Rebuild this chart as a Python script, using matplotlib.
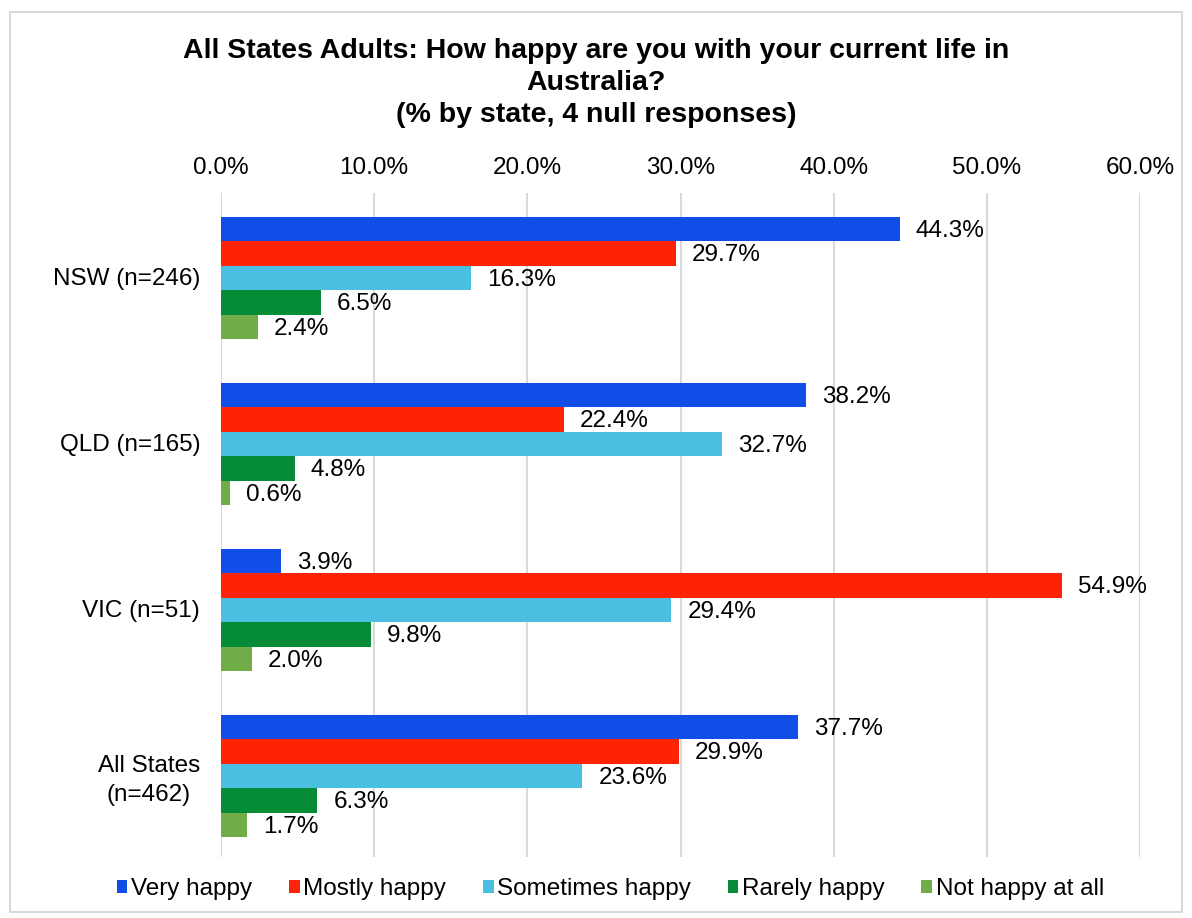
import numpy as np
import matplotlib.pyplot as plt
from matplotlib.patches import Rectangle
from matplotlib.ticker import FuncFormatter

plt.rcParams['font.family'] = ['Liberation Sans', 'DejaVu Sans']

# ── data ─────────────────────────────────────────────────────────────
states = ["NSW (n=246)", "QLD (n=165)", "VIC (n=51)", "All States\n(n=462)"]
series = ["Very happy", "Mostly happy", "Sometimes happy", "Rarely happy", "Not happy at all"]
colors = ["#114ee8", "#ff2305", "#4abfe2", "#068b37", "#70ac48"]

very_happy      = [44.3, 38.2, 3.9, 37.7]
mostly_happy    = [29.7, 22.4, 54.9, 29.9]
sometimes_happy = [16.3, 32.7, 29.4, 23.6]
rarely_happy    = [6.5, 4.8, 9.8, 6.3]
not_happy       = [2.4, 0.6, 2.0, 1.7]
values = [very_happy, mostly_happy, sometimes_happy, rarely_happy, not_happy]

title = ("All States Adults: How happy are you with your current life in\n"
         "Australia?\n(% by state, 4 null responses)")

FS = 17.5

# ── figure ───────────────────────────────────────────────────────────
fig = plt.figure(figsize=(11.92, 9.18), dpi=100)
ax = fig.add_axes([221 / 1192, 1 - 857 / 918, (1140 - 221) / 1192, (857 - 193) / 918])

fig.patches.append(Rectangle((10 / 1192, 1 - 912 / 918), 1172 / 1192, 900 / 918,
                             transform=fig.transFigure, fill=False,
                             edgecolor='#d9d9d9', lw=1.5))

y = np.arange(len(states))
h = 0.148
for i, (name, vals, c) in enumerate(zip(series, values, colors)):
    pos = y - 2 * h + i * h + 0.012
    ax.barh(pos, vals, height=h, color=c, label=name)
    for p, v in zip(pos, vals):
        ax.text(v + 1.05, p + 0.01, f"{v:.1f}%", va='center', ha='left', fontsize=FS)

ax.set_xlim(0, 60)
ax.set_ylim(len(states) - 0.5, -0.5)
ax.set_xticks(np.arange(0, 61, 10))
ax.xaxis.set_major_formatter(FuncFormatter(lambda v, _: f"{v:.1f}%"))
ax.xaxis.tick_top()
ax.tick_params(axis='x', length=0, labelsize=FS, pad=10)
ax.set_yticks(y)
ax.set_yticklabels(states, fontsize=FS, multialignment='center', linespacing=1.45)
ax.tick_params(axis='y', length=0, pad=15)
ax.grid(axis='x', color='#d9d9d9', lw=1.5)
ax.set_axisbelow(True)
for s in ax.spines.values():
    s.set_visible(False)

fig.text(0.5, 1 - 83 / 918, title, ha='center', va='center',
         fontsize=20.5, fontweight='bold', linespacing=1.32)

fig.legend(loc='center', bbox_to_anchor=(0.512, 1 - 889 / 918), ncol=5,
           frameon=False, fontsize=FS, handlelength=0.45, handleheight=0.45,
           handletextpad=0.15, columnspacing=1.5)

fig.savefig("out.png", dpi=100)
